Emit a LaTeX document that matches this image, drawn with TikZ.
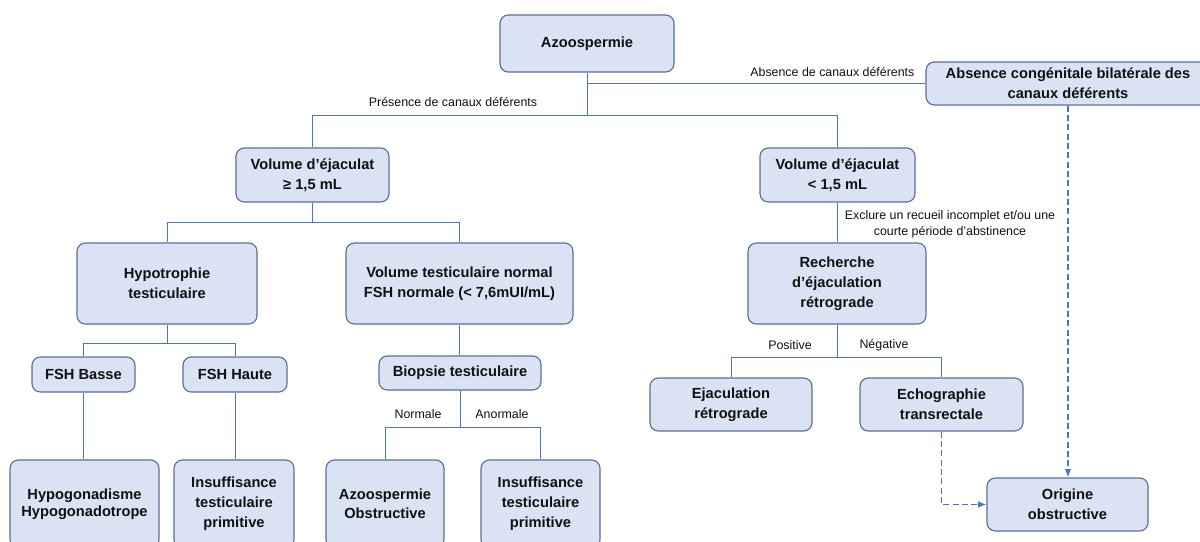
\documentclass[tikz,border=0pt]{standalone}
\usepackage{fontspec}
\setmainfont{Liberation Sans}
\usepackage{xcolor}
\usepackage{tikz}
\usetikzlibrary{arrows.meta,positioning,calc}
\definecolor{boxfill}{HTML}{DAE3F3}
\definecolor{boxline}{HTML}{5B6F96}
\definecolor{wire}{HTML}{4A76C6}
\definecolor{ink}{HTML}{111111}
\tikzset{
  >={Latex[length=2.2mm,width=1.7mm]},
  box/.style={draw=boxline, fill=boxfill, rounded corners=2.2mm, line width=.85pt,
    align=center, text=ink, inner sep=2pt,
    font=\fontsize{11}{15}\selectfont\bfseries},
  link/.style={draw=wire, line width=.7pt},
  hint/.style={dashed, dash pattern=on 4.5pt off 2.5pt, ->, draw=wire, line width=.85pt, color=wire},
  lbl/.style={font=\fontsize{9.3}{12}\selectfont, text=ink, inner sep=1pt, align=center}
}
\begin{document}
\begin{tikzpicture}[x=.75pt,y=-.75pt]
  \useasboundingbox[fill=white] (0,0) rectangle (1200,542);
  % level 0
  \node[box,minimum width=130.5pt,minimum height=42.75pt] (azo) at (587,43.5) {Azoospermie};
  \node[box,minimum width=213pt,minimum height=32.25pt] (acbd) at (1068,83.5) {Absence congénitale bilatérale des\\canaux déférents};
  % level 1
  \node[box,minimum width=114.75pt,minimum height=40.5pt] (vge) at (312.5,175) {Volume d’éjaculat\\≥ 1,5 mL};
  \node[box,minimum width=116.25pt,minimum height=40.5pt] (vlt) at (837.5,175) {Volume d’éjaculat\\< 1,5 mL};
  % level 2
  \node[box,minimum width=135pt,minimum height=60.75pt] (hypo) at (167,283.5) {Hypotrophie\\testiculaire};
  \node[box,minimum width=170.25pt,minimum height=60.75pt] (vtn) at (459.5,283.5) {Volume testiculaire normal\\FSH normale (< 7,6mUI/mL)};
  \node[box,minimum width=133.5pt,minimum height=60.75pt] (rech) at (837,283.5) {Recherche\\d’éjaculation\\rétrograde};
  % level 3
  \node[box,minimum width=77.25pt,minimum height=26.25pt] (fshb) at (83.5,374.5) {FSH Basse};
  \node[box,minimum width=78pt,minimum height=26.25pt] (fshh) at (235,374.5) {FSH Haute};
  \node[box,minimum width=121.5pt,minimum height=25.5pt] (biop) at (460,373) {Biopsie testiculaire};
  \node[box,minimum width=121.5pt,minimum height=39.75pt] (ejac) at (731,404.5) {Ejaculation\\rétrograde};
  \node[box,minimum width=122.25pt,minimum height=39.75pt] (echo) at (941.5,404.5) {Echographie\\transrectale};
  % level 4
  \node[box,minimum width=111.75pt,minimum height=66pt] (hypog) at (84.5,504) {Hypogonadisme\\[-2pt]Hypogonadotrope};
  \node[box,minimum width=90pt,minimum height=66pt] (ins1) at (234,504) {Insuffisance\\testiculaire\\primitive};
  \node[box,minimum width=88.5pt,minimum height=66pt] (azob) at (385,504) {Azoospermie\\[-1pt]Obstructive};
  \node[box,minimum width=89.25pt,minimum height=66pt] (ins2) at (540.5,504) {Insuffisance\\testiculaire\\primitive};
  \node[box,minimum width=120.75pt,minimum height=39.75pt] (orig) at (1067.5,504.5) {Origine\\obstructive};

  % split points
  \coordinate (s1) at (587,115);
  \coordinate (s2) at (312.5,222);
  \coordinate (s3) at (167,343);
  \coordinate (s4) at (460,427);
  \coordinate (s5) at (837,357);

  % connectors
  \draw[link] (azo.south) -- (s1) -| (vge.north);
  \draw[link] (s1) -| (vlt.north);
  \draw[link] (azo.south |- acbd.west) -- (acbd.west);
  \draw[link] (vge.south) -- (s2) -| (hypo.north);
  \draw[link] (s2) -| (vtn.north);
  \draw[link] (hypo.south) -- (s3) -| (fshb.north);
  \draw[link] (s3) -| (fshh.north);
  \draw[link] (fshb.south) -- (fshb.south |- hypog.north);
  \draw[link] (fshh.south) -- (fshh.south |- ins1.north);
  \draw[link] (vtn.south) -- (vtn.south |- biop.north);
  \draw[link] (biop.south) -- (s4) -| (azob.north);
  \draw[link] (s4) -| (ins2.north);
  \draw[link] (vlt.south) -- (vlt.south |- rech.north);
  \draw[link] (rech.south) -- (s5) -| (ejac.north);
  \draw[link] (s5) -| (echo.north);
  \draw[hint] (echo.south) |- (orig.west);
  \draw[hint] (acbd.south) -- (acbd.south |- orig.north);

  % branch labels
  \node[lbl,anchor=east] (labs) at (916,72) {Absence de canaux déférents};
  \node[lbl] (lpres) at (453,102) {Présence de canaux déférents};
  \node[lbl] (lexcl) at (950,224) {Exclure un recueil incomplet et/ou une\\courte période d’abstinence};
  \node[lbl] (lnorm) at (418,414) {Normale};
  \node[lbl] (lanor) at (502,414) {Anormale};
  \node[lbl] (lpos) at (790,345) {Positive};
  \node[lbl] (lneg) at (884,345) {Négative};
\end{tikzpicture}
\end{document}
